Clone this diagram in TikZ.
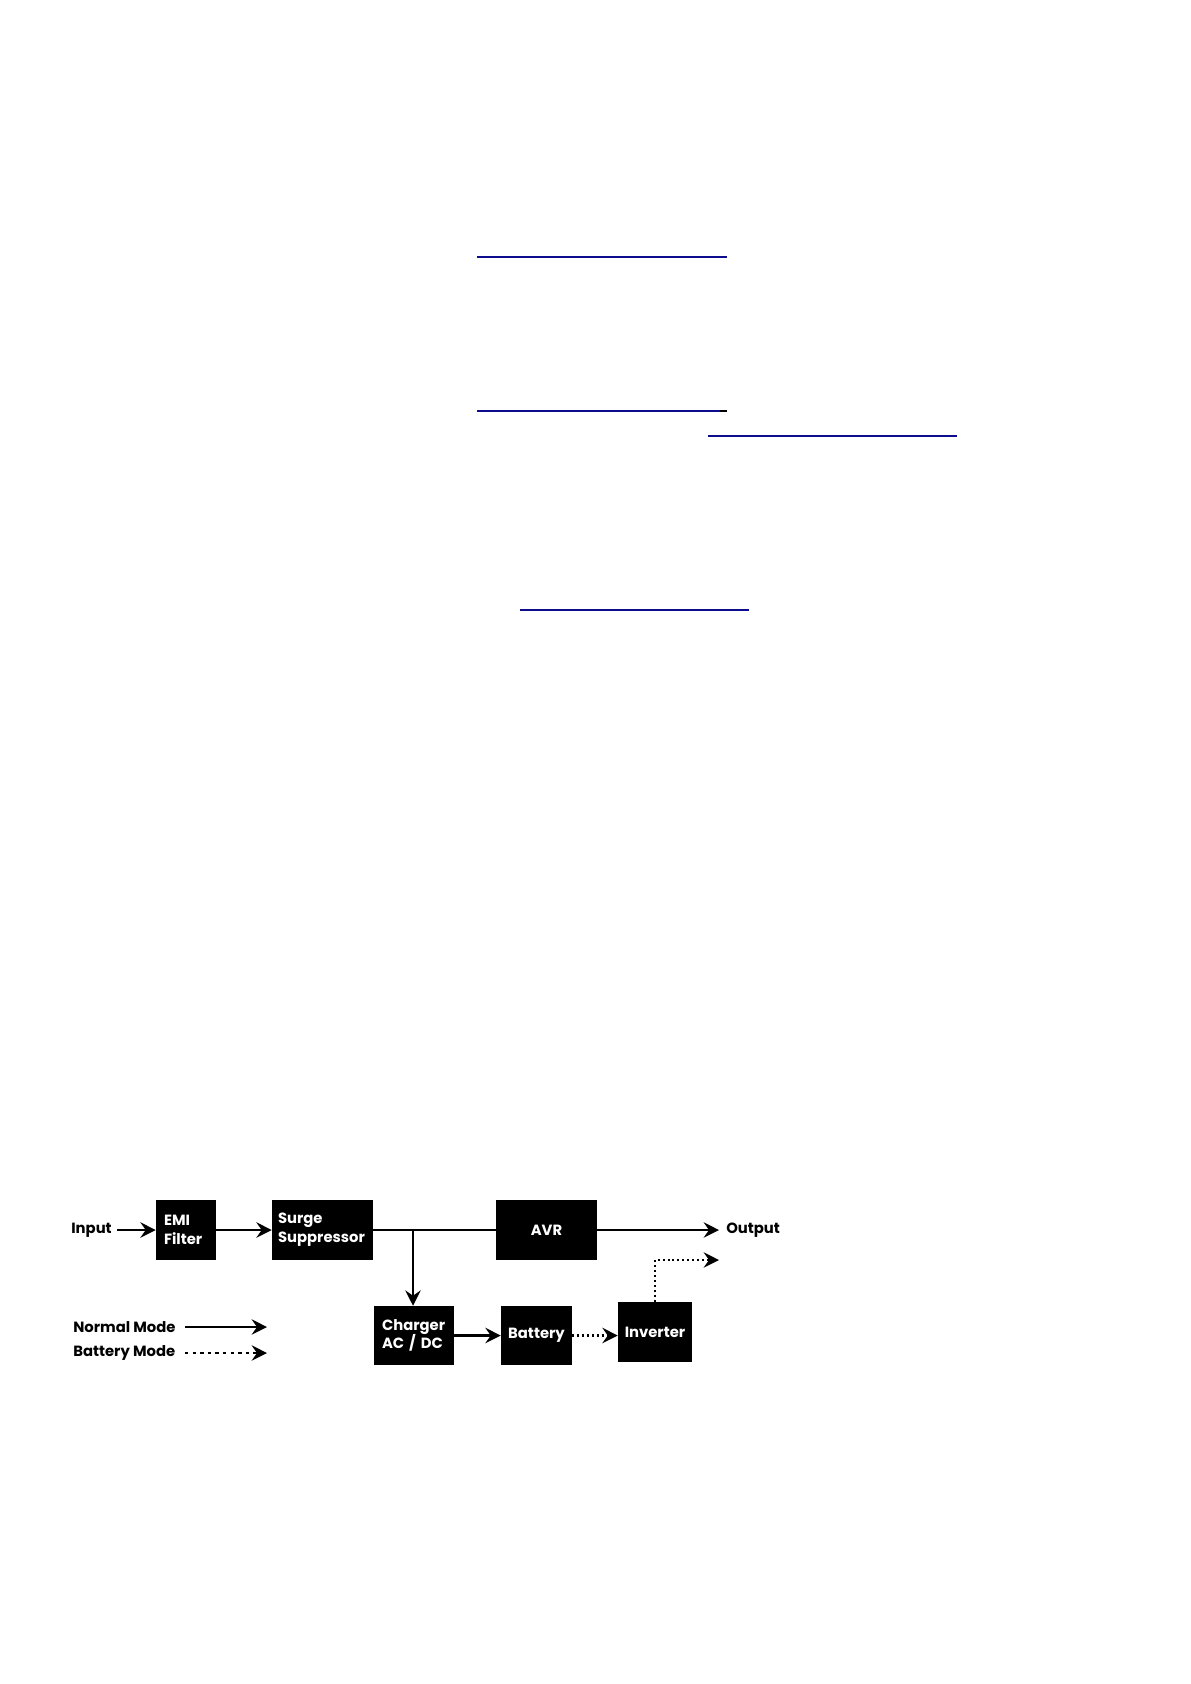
\documentclass[tikz,border=0pt]{standalone}
\usepackage{fontspec}
\setmainfont{Poppins}
\usetikzlibrary{arrows.meta}
\definecolor{linkblue}{RGB}{12,12,140}
\begin{document}
\begin{tikzpicture}[x=0.75pt,y=-0.75pt,
  lbl/.style={font=\bfseries\fontsize{11.1}{14}\selectfont},
  blk/.style={fill=black,text=white,font=\bfseries\fontsize{11.1}{14}\selectfont,inner ysep=0pt},
  lblk/.style={blk,align=left},
  cblk/.style={blk,align=center,inner xsep=0pt},
  conn/.style={line width=1.6pt},
  tip/.style={-{Stealth[length=11.5pt,width=11.5pt,inset=4pt]}},
  arr/.style={conn,tip},
  dotarr/.style={conn,tip,dash pattern=on 1.5pt off 2.2pt},
  dasharr/.style={conn,tip,dash pattern=on 2.5pt off 3.2pt},
  link/.style={linkblue,line width=1.5pt}
]
\useasboundingbox (0,0) rectangle (1190,1684);
\fill[white] (0,0) rectangle (1190,1684);

% link underlines
\draw[link] (477,257) -- (727,257);
\draw[link] (477,411) -- (720,411);
\draw[black,line width=1.5pt] (720,411) -- (727,411);
\draw[link] (708,436) -- (957,436);
\draw[link] (520,610) -- (749,610);

% blocks
\node[lblk,text width=33pt,inner xsep=6pt,minimum height=45pt] (emi) at (186,1230) {EMI\\Filter};
\node[lblk,text width=66.75pt,inner xsep=4.5pt,minimum height=45pt] (surge) at (322.5,1230) {Surge\\\mbox{Suppressor}};
\node[cblk,minimum width=75.75pt,minimum height=45pt] (avr) at (546.5,1230) {AVR};
\node[lblk,text width=48pt,inner xsep=6pt,minimum height=44.25pt] (charger) at (414,1335.5) {Charger\\\mbox{AC / DC}};
\node[cblk,minimum width=53.25pt,minimum height=44.25pt] (battery) at (536.5,1335.5) {Battery};
\node[cblk,minimum width=55.5pt,minimum height=45pt] (inverter) at (655,1332) {Inverter};

% labels
\node[lbl,anchor=east,inner xsep=3.75pt] (input) at (117,1230) {Input};
\node[lbl,anchor=west,inner xsep=5.25pt] (output) at (719,1230) {Output};
\node[lbl,anchor=west,inner sep=0pt] (normal) at (73,1327) {Normal Mode};
\node[lbl,anchor=west,inner sep=0pt] (batmode) at (73,1353) {Battery Mode};

% coordinates
\coordinate (branch) at (413,1230);
\coordinate (dotend) at (719,1260);
\coordinate (n1) at (185,1327);
\coordinate (n2) at (267,1327);
\coordinate (b1) at (185,1353);
\coordinate (b2) at (267,1353);

% connectors
\draw[arr] (input.east) -- (emi.west);
\draw[arr] (emi.east) -- (surge.west);
\draw[conn] (surge.east) -- (avr.west);
\draw[arr] (branch) -- (branch |- charger.north);
\draw[arr] (avr.east) -- (output.west);
\draw[arr] (charger.east) -- (battery.west);
\draw[dotarr] (battery.east) -- (battery.east -| inverter.west);
\draw[dotarr] (inverter.north) |- (dotend);

% legend
\draw[arr] (n1) -- (n2);
\draw[dasharr] (b1) -- (b2);
\end{tikzpicture}
\end{document}
